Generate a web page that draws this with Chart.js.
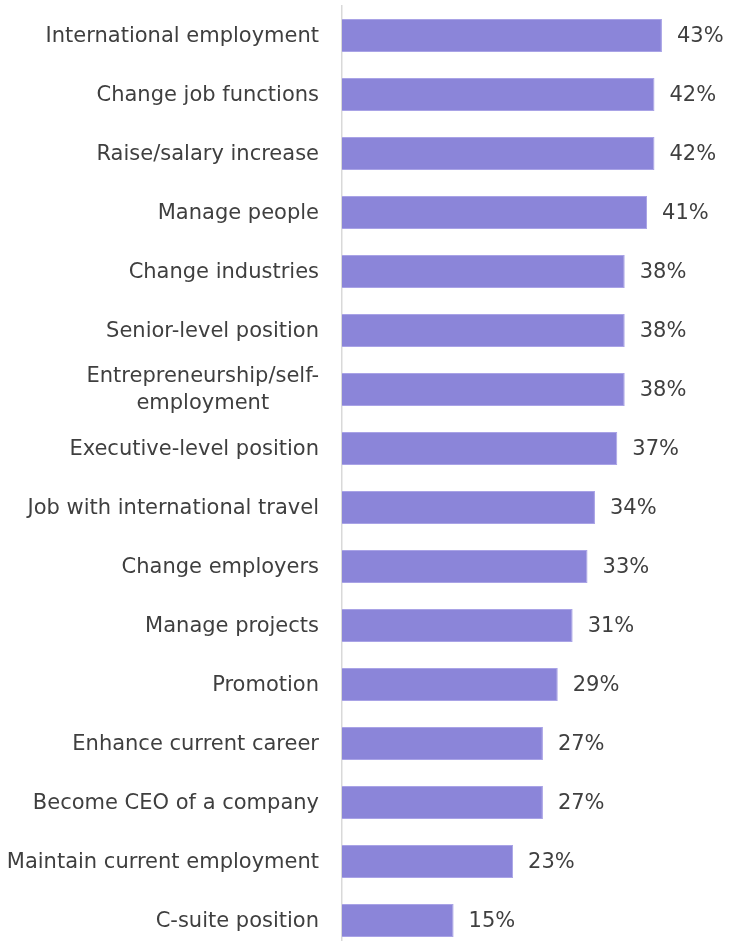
<!DOCTYPE html>
<html>
<head>
<meta charset="utf-8">
<script src="https://cdn.jsdelivr.net/npm/chart.js@4"></script>
<style>
  html, body { margin: 0; padding: 0; background: #fff; overflow: hidden; }
  #wrap { width: 729px; height: 950px; }
</style>
</head>
<body>
<div id="wrap"><canvas id="goalsChart" width="729" height="950"></canvas></div>
<script>
const categories = [
    "International employment",
    "Change job functions",
    "Raise/salary increase",
    "Manage people",
    "Change industries",
    "Senior-level position",
    ["Entrepreneurship/self-", "employment"],
    "Executive-level position",
    "Job with international travel",
    "Change employers",
    "Manage projects",
    "Promotion",
    "Enhance current career",
    "Become CEO of a company",
    "Maintain current employment",
    "C-suite position"
];
const shares = [43, 42, 42, 41, 38, 38, 38, 37, 34, 33, 31, 29, 27, 27, 23, 15];

const FONT = "DejaVu Sans, Verdana, sans-serif";
const TEXT_COLOR = "#3f3f3f";

// category names on the left, drawn against the y scale
const categoryLabels = {
    id: "categoryLabels",
    afterDraw(chart) {
        const ctx = chart.ctx;
        const y = chart.scales.y;
        const right = chart.chartArea.left - 23;
        ctx.save();
        ctx.font = "21px " + FONT;
        ctx.fillStyle = TEXT_COLOR;
        ctx.textBaseline = "middle";
        categories.forEach((label, i) => {
            const cy = y.getPixelForValue(i) + 1;
            if (Array.isArray(label)) {
                const widest = Math.max(...label.map(l => ctx.measureText(l).width));
                const cx = right - widest / 2;
                const lh = 27;
                ctx.textAlign = "center";
                label.forEach((line, k) => {
                    ctx.fillText(line, cx, cy + (k - (label.length - 1) / 2) * lh);
                });
            } else {
                ctx.textAlign = "right";
                ctx.fillText(label, right, cy);
            }
        });
        ctx.restore();
    }
};

// percentage at the end of each bar
const valueLabels = {
    id: "valueLabels",
    afterDatasetsDraw(chart) {
        const ctx = chart.ctx;
        const meta = chart.getDatasetMeta(0);
        ctx.save();
        ctx.font = "21px " + FONT;
        ctx.fillStyle = TEXT_COLOR;
        ctx.textAlign = "left";
        ctx.textBaseline = "middle";
        meta.data.forEach((bar, i) => {
            ctx.fillText(shares[i] + "%", bar.x + 15, bar.y + 1);
        });
        ctx.restore();
    }
};

new Chart(document.getElementById("goalsChart").getContext("2d"), {
    type: "bar",
    data: {
        labels: categories,
        datasets: [{
            data: shares,
            backgroundColor: "#8b85d9",
            borderColor: "#a9a3e6",
            borderWidth: 1,
            barPercentage: 0.56,
            categoryPercentage: 1
        }]
    },
    options: {
        indexAxis: "y",
        responsive: false,
        animation: false,
        layout: { padding: { top: 6, right: 15, bottom: 0, left: 0 } },
        plugins: {
            legend: { display: false },
            tooltip: { enabled: false }
        },
        scales: {
            x: {
                display: false,
                min: 0,
                max: 50
            },
            y: {
                grid: { display: false, drawTicks: false },
                border: { display: true, color: "#d9d9d9", width: 1.5 },
                ticks: { display: false },
                afterFit(scale) { scale.width = 342; }
            }
        }
    },
    plugins: [categoryLabels, valueLabels]
});
</script>
</body>
</html>
